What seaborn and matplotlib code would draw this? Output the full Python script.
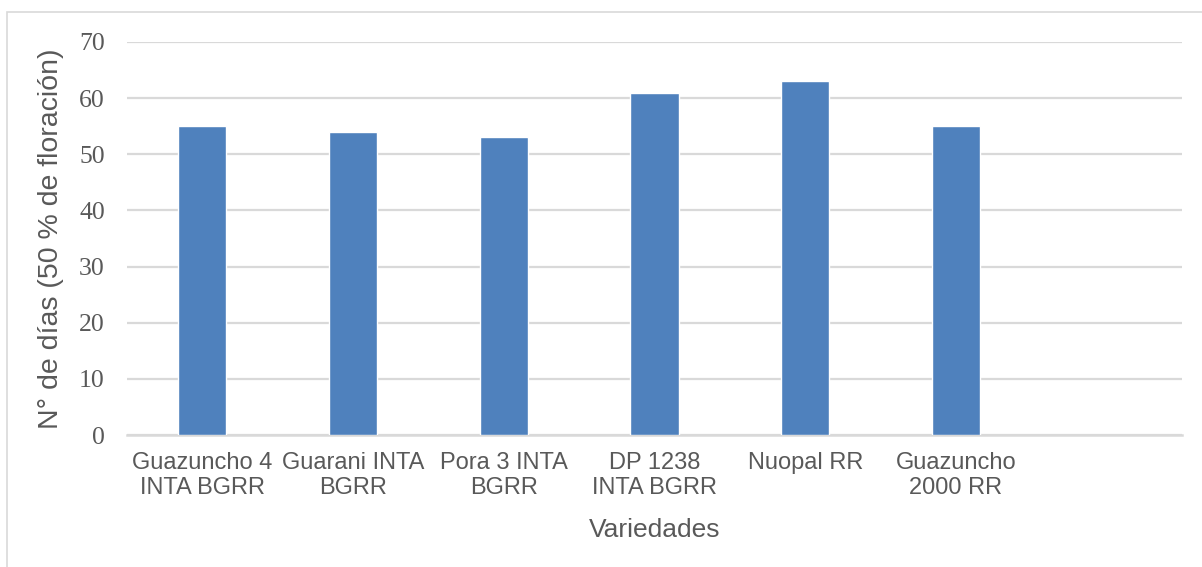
import matplotlib
matplotlib.use("Agg")
import matplotlib.pyplot as plt
import seaborn as sns
import pandas as pd
from matplotlib.patches import Rectangle

variedades = ["Guazuncho 4\nINTA BGRR", "Guarani INTA\nBGRR", "Pora 3 INTA\nBGRR",
              "DP 1238\nINTA BGRR", "Nuopal RR", "Guazuncho\n2000 RR"]
dias = [55, 54, 53, 61, 63, 55]
yticks = [0, 10, 20, 30, 40, 50, 60, 70]

df = pd.DataFrame({"variedad": variedades, "dias": dias})

sns.set_theme(style="white")
plt.rcParams["font.family"] = ["Liberation Sans", "DejaVu Sans"]

GRAY = "#595959"
GRID = "#d9d9d9"

fig = plt.figure(figsize=(12.02, 5.67), dpi=100)
ax = fig.add_axes([127 / 1202, 1 - 435 / 567, 1055 / 1202, 393 / 567])

sns.barplot(data=df, x="variedad", y="dias", color="#4f81bd", width=0.32,
            saturation=1, ax=ax, zorder=3)

# empty 7th slot like the original sheet
ax.set_xlim(-0.5, 6.5)
ax.set_ylim(0, 70)
ax.set_yticks(yticks)
ax.yaxis.grid(True, color=GRID, linewidth=1.6, zorder=0)
ax.set_axisbelow(True)
for s in ["top", "right", "left"]:
    ax.spines[s].set_visible(False)
ax.spines["bottom"].set_color(GRID)
ax.spines["bottom"].set_linewidth(1.8)

ax.tick_params(axis="both", length=0, colors=GRAY)
ax.tick_params(axis="y", pad=16)
ax.tick_params(axis="x", pad=12)
for lab in ax.get_yticklabels():
    lab.set_family(["Liberation Serif", "DejaVu Serif"])
    lab.set_fontsize(18.5)
for lab in ax.get_xticklabels():
    lab.set_fontsize(17)
    lab.set_linespacing(1.2)
    lab.set_multialignment("center")

ax.set_xlabel("Variedades", fontsize=19, color=GRAY)
ax.set_ylabel("N° de días (50 % de floración)", fontsize=20.5, color=GRAY)
ax.xaxis.set_label_coords(0.5, -0.2417)
ax.xaxis.label.set_va("center")
ax.yaxis.set_label_coords((51 - 127) / 1055, 0.5)
ax.yaxis.label.set_va("center")

# outer chart frame (cut off at right and bottom)
fig.patches.append(Rectangle((7 / 1202, -0.1), 1.2, 1.1 - 12 / 567,
                             transform=fig.transFigure, fill=False,
                             edgecolor=GRID, linewidth=1.2))

fig.savefig("out.png", dpi=100)
